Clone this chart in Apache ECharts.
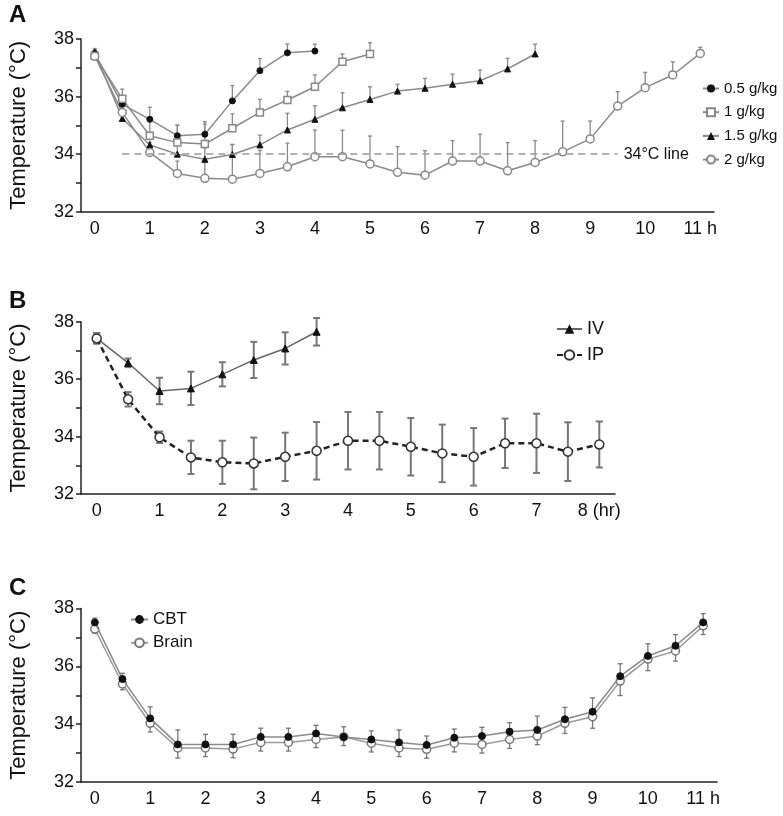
<!DOCTYPE html>
<html><head><meta charset="utf-8">
<script src="https://cdn.jsdelivr.net/npm/echarts@6/dist/echarts.min.js"></script>
<style>html,body{margin:0;padding:0;background:#fff}#c{width:783px;height:816px}</style>
</head><body><div id="c"></div>
<script>
// ---- Panel A data ----
const hoursA = ['0','0.5','1','1.5','2','2.5','3','3.5','4','4.5','5','5.5','6','6.5','7','7.5','8','8.5','9','9.5','10','10.5','11'];
const tickLabelsA = ['0','1','2','3','4','5','6','7','8','9','10','11 h'];
const dose05 = [37.5, 35.73, 35.21, 34.64, 34.69, 35.85, 36.9, 37.52, 37.58];
const dose05Err = [0.12, 0.3, 0.42, 0.37, 0.44, 0.53, 0.42, 0.31, 0.24];
const dose1 = [37.42, 35.92, 34.64, 34.4, 34.35, 34.9, 35.45, 35.88, 36.34, 37.21, 37.48];
const dose1Err = [0.15, 0.34, 0.55, 0.6, 0.7, 0.5, 0.45, 0.3, 0.41, 0.27, 0.39];
const dose15 = [37.55, 35.24, 34.32, 34.0, 33.82, 33.99, 34.32, 34.84, 35.21, 35.61, 35.9, 36.19, 36.29, 36.43, 36.55, 36.96, 37.48];
const dose15Err = [0.12, 0.3, 0.35, 0.35, 0.4, 0.35, 0.34, 0.58, 0.47, 0.52, 0.44, 0.24, 0.34, 0.35, 0.37, 0.37, 0.34];
const dose2 = [37.4, 35.45, 34.06, 33.33, 33.16, 33.13, 33.33, 33.56, 33.91, 33.91, 33.66, 33.37, 33.27, 33.76, 33.76, 33.42, 33.71, 34.08, 34.53, 35.67, 36.31, 36.75, 37.5];
const dose2Err = [0.12, 0.3, 0.35, 0.43, 0.6, 1.2, 0.8, 0.82, 0.93, 0.92, 0.97, 0.89, 0.85, 0.71, 0.93, 0.98, 0.76, 1.07, 0.62, 0.5, 0.53, 0.46, 0.21];
const refLineA = 34;

// ---- Panel B data ----
const hoursB = ['0','0.5','1','1.5','2','2.5','3','3.5','4','4.5','5','5.5','6','6.5','7','7.5','8'];
const tickLabelsB = ['0','1','2','3','4','5','6','7','8 (hr)'];
const ivTemp = [37.42, 36.57, 35.59, 35.68, 36.17, 36.67, 37.07, 37.65];
const ivErr = [0.18, 0.15, 0.46, 0.58, 0.42, 0.63, 0.56, 0.48];
const ipTemp = [37.42, 35.3, 33.98, 33.28, 33.11, 33.07, 33.3, 33.51, 33.86, 33.86, 33.65, 33.42, 33.3, 33.77, 33.77, 33.48, 33.73];
const ipErr = [0.18, 0.25, 0.2, 0.58, 0.75, 0.9, 0.84, 1.0, 1.0, 1.0, 1.0, 1.0, 1.0, 0.86, 1.03, 1.02, 0.8];

// ---- Panel C data ----
const hoursC = ['0','0.5','1','1.5','2','2.5','3','3.5','4','4.5','5','5.5','6','6.5','7','7.5','8','8.5','9','9.5','10','10.5','11'];
const tickLabelsC = ['0','1','2','3','4','5','6','7','8','9','10','11 h'];
const cbtTemp = [37.52, 35.56, 34.2, 33.3, 33.3, 33.3, 33.56, 33.56, 33.68, 33.56, 33.47, 33.37, 33.28, 33.53, 33.59, 33.74, 33.8, 34.17, 34.43, 35.66, 36.36, 36.71, 37.52];
const cbtErr = [0.15, 0.2, 0.4, 0.5, 0.35, 0.35, 0.3, 0.3, 0.28, 0.35, 0.3, 0.43, 0.31, 0.3, 0.3, 0.31, 0.48, 0.41, 0.48, 0.43, 0.42, 0.39, 0.3];
const brainTemp = [37.29, 35.39, 34.03, 33.18, 33.18, 33.14, 33.37, 33.37, 33.47, 33.56, 33.34, 33.18, 33.13, 33.34, 33.3, 33.47, 33.59, 34.03, 34.26, 35.49, 36.25, 36.53, 37.4];
const brainErr = [0.15, 0.2, 0.3, 0.35, 0.3, 0.3, 0.3, 0.3, 0.28, 0.3, 0.3, 0.3, 0.31, 0.3, 0.3, 0.31, 0.3, 0.35, 0.4, 0.5, 0.4, 0.35, 0.3];

const FONT = "'Liberation Sans',Arial,sans-serif";

function errData(vals, errs, mode) {
  return vals.map((v, i) => [i, mode === 'both' ? v - errs[i] : v,
                                mode === 'down' ? v : v + errs[i],
                                mode === 'down' ? v - errs[i] : v]);
}
function errSeries(idx, vals, errs, mode, color, width, cap) {
  return {
    type: 'custom', xAxisIndex: idx, yAxisIndex: idx, z: 1, silent: true,
    data: errData(vals, errs, mode),
    renderItem: function (params, api) {
      const x = api.value(0);
      let lo, hi;
      if (mode === 'down') { lo = api.coord([x, api.value(3)]); hi = api.coord([x, api.value(1)]); }
      else { lo = api.coord([x, api.value(1)]); hi = api.coord([x, api.value(2)]); }
      const st = { stroke: color, lineWidth: width };
      const ch = [{ type: 'line', shape: { x1: lo[0], y1: lo[1], x2: hi[0], y2: hi[1] }, style: st }];
      if (mode === 'up' || mode === 'both') ch.push({ type: 'line', shape: { x1: hi[0] - cap, y1: hi[1], x2: hi[0] + cap, y2: hi[1] }, style: st });
      if (mode === 'down' || mode === 'both') ch.push({ type: 'line', shape: { x1: lo[0] - cap, y1: lo[1], x2: lo[0] + cap, y2: lo[1] }, style: st });
      return { type: 'group', children: ch };
    }
  };
}

function xAx(idx, cats, labels) {
  return {
    type: 'category', gridIndex: idx, data: cats, boundaryGap: true,
    axisLine: { lineStyle: { color: '#222', width: 1.5 } },
    axisTick: { interval: 0, length: 5, lineStyle: { color: '#222', width: 1.5 } },
    axisLabel: { interval: 0, color: '#111', fontSize: 18, fontFamily: FONT, margin: 8,
      formatter: (v, i) => (i % 2 === 0 ? labels[i / 2] : '') }
  };
}
function yAx(idx) {
  return {
    type: 'value', gridIndex: idx, min: 32, max: 38, interval: 1,
    name: 'Temperature (°C)', nameLocation: 'middle', nameGap: 51, nameRotate: 90,
    nameTextStyle: { fontSize: 22, color: '#111', fontFamily: FONT },
    splitLine: { show: false },
    axisLine: { show: true, lineStyle: { color: '#222', width: 1.5 } },
    axisTick: { show: true, length: 5, lineStyle: { color: '#222', width: 1.5 } },
    axisLabel: { color: '#111', fontSize: 18, fontFamily: FONT, margin: 7,
      formatter: v => (v % 2 === 0 ? String(v) : '') }
  };
}

const chart = echarts.init(document.getElementById('c'), null, { renderer: 'canvas' });
chart.setOption({
  animation: false,
  textStyle: { fontFamily: FONT },
  title: [
    { text: 'A', left: 4, top: -2, textStyle: { fontSize: 24, fontWeight: 'bold', color: '#111', fontFamily: FONT } },
    { text: 'B', left: 4, top: 284, textStyle: { fontSize: 24, fontWeight: 'bold', color: '#111', fontFamily: FONT } },
    { text: 'C', left: 4, top: 571, textStyle: { fontSize: 24, fontWeight: 'bold', color: '#111', fontFamily: FONT } }
  ],
  grid: [
    { left: 77, top: 39, width: 637, height: 172.7 },
    { left: 77, top: 321.7, width: 538, height: 172.5 },
    { left: 77, top: 608.5, width: 640, height: 173.5 }
  ],
  xAxis: [xAx(0, hoursA, tickLabelsA), xAx(1, hoursB, tickLabelsB), xAx(2, hoursC, tickLabelsC)],
  yAxis: [yAx(0), yAx(1), yAx(2)],
  legend: [
    { data: ['0.5 g/kg', '1 g/kg', '1.5 g/kg', '2 g/kg'], orient: 'vertical', left: 697, top: 76,
      itemWidth: 16, itemHeight: 10, itemGap: 8.7, textStyle: { fontSize: 15, color: '#111', fontFamily: FONT } },
    { data: ['IV', 'IP'], orient: 'vertical', left: 551, top: 315, itemWidth: 25, itemHeight: 12, itemGap: 8,
      textStyle: { fontSize: 18, color: '#111', fontFamily: FONT } },
    { data: ['CBT', 'Brain'], orient: 'vertical', left: 125, top: 606, itemWidth: 17, itemHeight: 11, itemGap: 6.3,
      textStyle: { fontSize: 17, color: '#111', fontFamily: FONT } }
  ],
  series: [
    errSeries(0, dose05, dose05Err, 'up', '#8a8a8a', 1.3, 2),
    errSeries(0, dose1, dose1Err, 'up', '#8a8a8a', 1.3, 2),
    errSeries(0, dose15, dose15Err, 'up', '#8a8a8a', 1.3, 2),
    errSeries(0, dose2, dose2Err, 'up', '#8a8a8a', 1.3, 2),
    { name: '0.5 g/kg', type: 'line', xAxisIndex: 0, yAxisIndex: 0, z: 3, data: dose05,
      symbol: 'circle', symbolSize: 6, lineStyle: { color: '#8a8a8a', width: 1.5 },
      itemStyle: { color: '#111', borderColor: '#111' } },
    { name: '1 g/kg', type: 'line', xAxisIndex: 0, yAxisIndex: 0, z: 3, data: dose1,
      symbol: 'rect', symbolSize: 7, lineStyle: { color: '#8a8a8a', width: 1.5 },
      itemStyle: { color: '#fff', borderColor: '#888', borderWidth: 1.5 } },
    { name: '1.5 g/kg', type: 'line', xAxisIndex: 0, yAxisIndex: 0, z: 3, data: dose15,
      symbol: 'triangle', symbolSize: 6, lineStyle: { color: '#8a8a8a', width: 1.5 },
      itemStyle: { color: '#111', borderColor: '#111' } },
    { name: '2 g/kg', type: 'line', xAxisIndex: 0, yAxisIndex: 0, z: 3, data: dose2,
      symbol: 'circle', symbolSize: 8, lineStyle: { color: '#8a8a8a', width: 1.5 },
      itemStyle: { color: '#fff', borderColor: '#888', borderWidth: 1.5 },
      markLine: { silent: true, symbol: ['none', 'none'],
        lineStyle: { color: '#999', type: [7, 5], width: 1.5 },
        label: { show: true, position: 'end', formatter: '34°C line', color: '#111', fontSize: 16, fontFamily: FONT, distance: 6 },
        data: [[{ coord: [1, refLineA] }, { coord: [18.7, refLineA] }]] } },

    errSeries(1, ivTemp, ivErr, 'both', '#777', 2, 3.5),
    errSeries(1, ipTemp, ipErr, 'both', '#777', 2, 3.5),
    { name: 'IV', type: 'line', xAxisIndex: 1, yAxisIndex: 1, z: 3, data: ivTemp,
      symbol: 'triangle', symbolSize: 7, lineStyle: { color: '#666', width: 1.5 },
      itemStyle: { color: '#111', borderColor: '#111' } },
    { name: 'IP', type: 'line', xAxisIndex: 1, yAxisIndex: 1, z: 3, data: ipTemp,
      symbol: 'circle', symbolSize: 9, lineStyle: { color: '#222', width: 2.5, type: [6, 4] },
      itemStyle: { color: '#fff', borderColor: '#333', borderWidth: 1.5 } },

    errSeries(2, cbtTemp, cbtErr, 'up', '#777', 1.3, 2.5),
    errSeries(2, brainTemp, brainErr, 'down', '#777', 1.3, 2.5),
    { name: 'CBT', type: 'line', xAxisIndex: 2, yAxisIndex: 2, z: 4, data: cbtTemp,
      symbol: 'circle', symbolSize: 7, lineStyle: { color: '#8a8a8a', width: 1.5 },
      itemStyle: { color: '#111', borderColor: '#111' } },
    { name: 'Brain', type: 'line', xAxisIndex: 2, yAxisIndex: 2, z: 3, data: brainTemp,
      symbol: 'circle', symbolSize: 8, lineStyle: { color: '#9a9a9a', width: 1.5 },
      itemStyle: { color: '#fff', borderColor: '#777', borderWidth: 1.5 } }
  ]
});
</script></body></html>
